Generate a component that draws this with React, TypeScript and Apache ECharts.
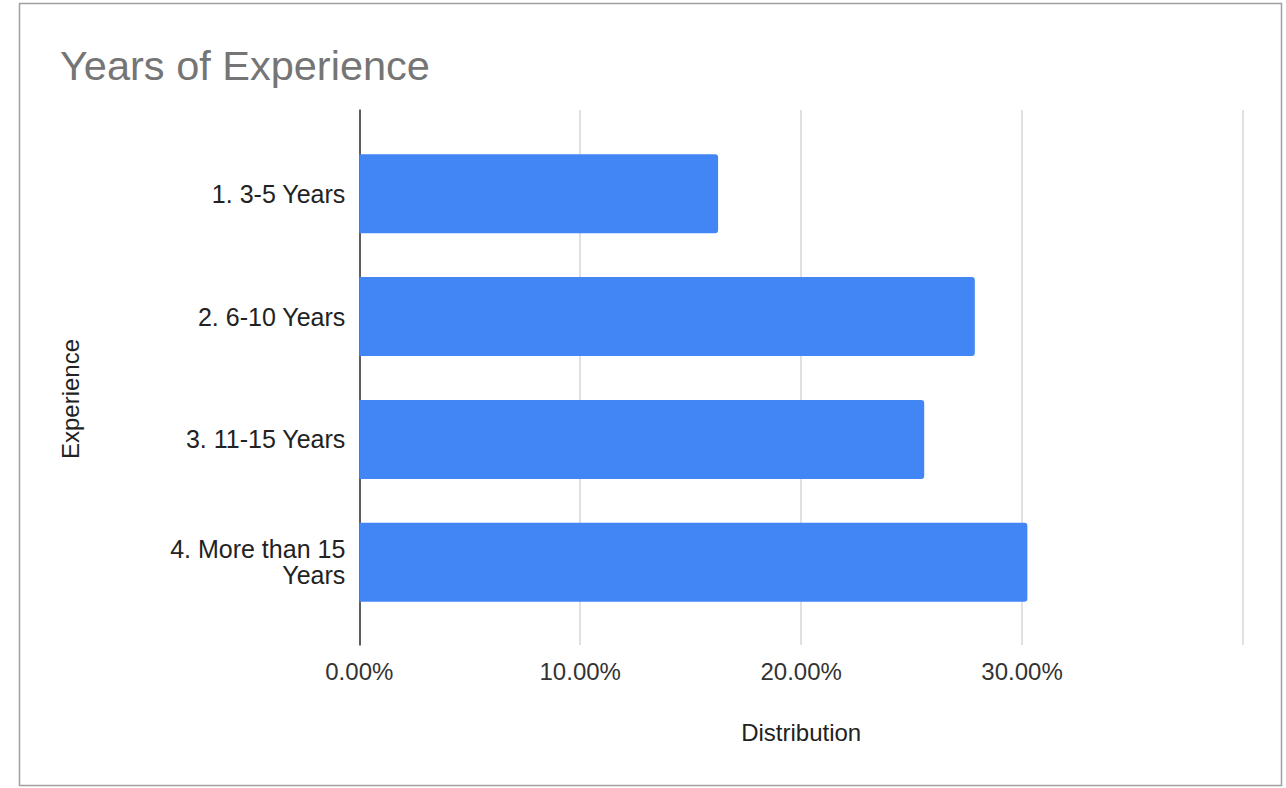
import React, { useEffect, useRef } from "react";
import * as echarts from "echarts";

const categories = ["1. 3-5 Years", "2. 6-10 Years", "3. 11-15 Years", "4. More than 15\nYears"];
const distribution = [0.1624, 0.2786, 0.2557, 0.3024];
const xTicks = [0, 0.1, 0.2, 0.3, 0.4];

const FONT = "'Liberation Sans', Arial, sans-serif";

export default function App() {
  const ref = useRef<HTMLDivElement>(null);
  useEffect(() => {
    if (!ref.current) return;
    const chart = echarts.init(ref.current, null, { renderer: "svg" });
    const plotLeft = 359.3;
    const plotWidth = 1243 - 359.3;
    chart.setOption({
      animation: false,
      backgroundColor: "#ffffff",
      textStyle: { fontFamily: FONT },
      title: {
        text: "Years of Experience",
        left: 55,
        top: 39,
        textStyle: { fontFamily: FONT, fontSize: 41.5, fontWeight: "normal", color: "#757575" },
      },
      graphic: [
        {
          type: "rect",
          shape: { x: 19.5, y: 3.5, width: 1262, height: 782 },
          style: { fill: "none", stroke: "#a0a0a0", lineWidth: 1.5 },
          silent: true,
          z: 100,
        },
        {
          type: "text",
          x: 70,
          y: 399,
          rotation: Math.PI / 2,
          style: {
            text: "Experience",
            font: "24px " + FONT,
            fill: "#222222",
            textAlign: "center",
            textVerticalAlign: "middle",
          },
          silent: true,
        },
      ],
      grid: [
        { left: plotLeft, top: 110, width: plotWidth, height: 535 },
        { left: plotLeft, top: 132.4, width: plotWidth, height: 491.2 },
      ],
      xAxis: [
        {
          type: "value",
          gridIndex: 0,
          min: xTicks[0],
          max: xTicks[xTicks.length - 1],
          interval: 0.1,
          axisLine: { show: false },
          axisTick: { show: false },
          splitLine: { show: true, lineStyle: { color: "#d6d6d6", width: 1.5 } },
          axisLabel: {
            margin: 14,
            fontSize: 24,
            color: "#333333",
            fontFamily: FONT,
            formatter: (v: number) => (v >= 0.4 - 1e-9 ? "" : (v * 100).toFixed(2) + "%"),
          },
          name: "Distribution",
          nameLocation: "middle",
          nameGap: 75,
          nameTextStyle: { fontSize: 24, color: "#222222", fontFamily: FONT },
        },
        {
          type: "value",
          gridIndex: 1,
          min: xTicks[0],
          max: xTicks[xTicks.length - 1],
          show: false,
        },
      ],
      yAxis: [
        {
          type: "value",
          gridIndex: 0,
          min: 0,
          max: 1,
          axisLine: { show: true, lineStyle: { color: "#333333", width: 1.5 } },
          axisTick: { show: false },
          axisLabel: { show: false },
          splitLine: { show: false },
        },
        {
          type: "category",
          gridIndex: 1,
          inverse: true,
          data: categories,
          axisLine: { show: false },
          axisTick: { show: false },
          splitLine: { show: false },
          axisLabel: {
            margin: 14,
            fontSize: 25,
            lineHeight: 26,
            color: "#222222",
            fontFamily: FONT,
            align: "right",
          },
        },
      ],
      series: [
        {
          type: "bar",
          xAxisIndex: 1,
          yAxisIndex: 1,
          data: distribution,
          barWidth: 79,
          itemStyle: { color: "#4285F4", borderRadius: [0, 3, 3, 0] },
          z: 3,
        },
      ],
    });
    return () => chart.dispose();
  }, []);
  return (
    <div
      ref={ref}
      style={{ position: "absolute", left: 0, top: 0, width: 1286, height: 788 }}
    />
  );
}
